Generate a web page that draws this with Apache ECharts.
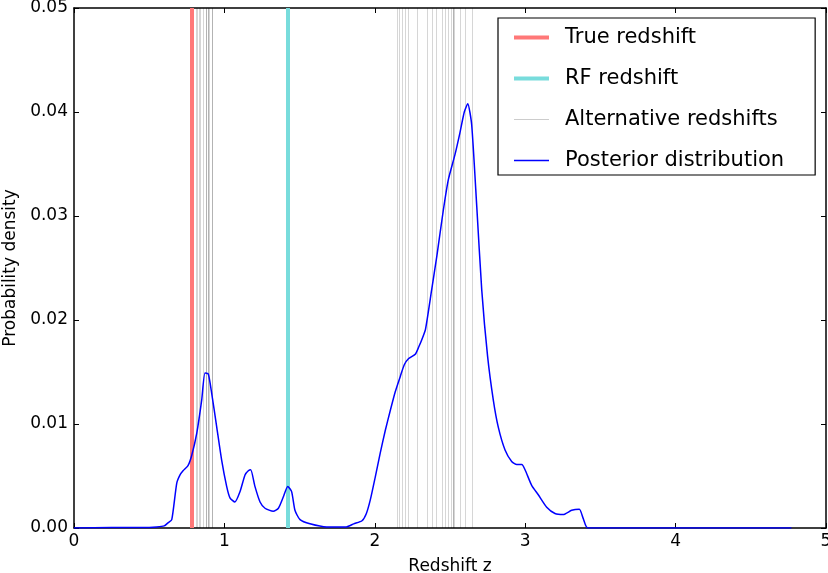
<!DOCTYPE html>
<html>
<head>
<meta charset="utf-8">
<script src="https://cdn.jsdelivr.net/npm/echarts@6/dist/echarts.min.js"></script>
<style>
  html, body { margin: 0; padding: 0; background: #fff; }
  #chart { width: 828px; height: 573px; }
</style>
</head>
<body>
<div id="chart"></div>
<script>
// redshift values
var trueZ = 0.781
var rfZ = 1.423
var altZ = [0.805, 0.818, 0.831, 0.844, 0.858, 0.878, 0.878, 0.891, 0.891, 0.904, 0.918, 0.924,
    2.146, 2.161, 2.181, 2.201, 2.221, 2.281, 2.354, 2.380, 2.407, 2.447, 2.467, 2.487,
    2.507, 2.520, 2.520, 2.533, 2.566, 2.600, 2.653]

// posterior curve
var postZ = [0, 0.25, 0.45, 0.55, 0.60, 0.625, 0.65, 0.683, 0.705, 0.725, 0.758, 0.783, 0.816, 0.849,
    0.871, 0.893, 0.915, 0.949, 0.982, 1.015, 1.037, 1.070, 1.104, 1.137, 1.159, 1.175, 1.203,
    1.237, 1.270, 1.325, 1.359, 1.392, 1.421, 1.447, 1.469, 1.503, 1.569, 1.68, 1.81, 1.86,
    1.915, 1.944, 1.97, 2.003, 2.036, 2.07, 2.103, 2.136, 2.17, 2.196, 2.225, 2.269, 2.292,
    2.315, 2.337, 2.378, 2.412, 2.456, 2.489, 2.533, 2.566, 2.595, 2.618, 2.644, 2.678, 2.711,
    2.75, 2.788, 2.821, 2.866, 2.910, 2.944, 2.977, 2.999, 3.043, 3.087, 3.143, 3.198, 3.253,
    3.309, 3.36, 3.386, 3.416, 4.77]
var postP = [0, 0.00005, 0.00005, 0.0001, 0.0002, 0.0005, 0.0008, 0.0043, 0.0051, 0.0055, 0.006,
    0.007, 0.0091, 0.0123, 0.0149, 0.0148, 0.013, 0.0097, 0.0065, 0.004, 0.0029, 0.0025, 0.0035,
    0.0051, 0.0055, 0.0056, 0.004, 0.0025, 0.0019, 0.0016, 0.0019, 0.003, 0.004, 0.0035, 0.0017,
    0.0008, 0.0004, 0.0001, 0.0001, 0.0004, 0.0007, 0.0014, 0.0027, 0.0049, 0.0072, 0.0094,
    0.0113, 0.0131, 0.0146, 0.0157, 0.0163, 0.0167, 0.0174, 0.0182, 0.0191, 0.0229, 0.0261,
    0.0306, 0.0335, 0.0359, 0.0380, 0.0400, 0.0408, 0.0388, 0.0309, 0.0229, 0.0165, 0.0123,
    0.0097, 0.0075, 0.0064, 0.0061, 0.0061, 0.0056, 0.0041, 0.0032, 0.002, 0.0014, 0.0013,
    0.0017, 0.0018, 0.0009, 0, 0]

var xTicks = [0, 1, 2, 3, 4, 5]
var yTicks = [0, 0.01, 0.02, 0.03, 0.04, 0.05]

var font = 'DejaVu Sans'
var chart = echarts.init(document.getElementById('chart'))

function vline(v) {
    return { xAxis: v }
}

function axisBase(extra) {
    var a = {
        type: 'value',
        axisLine: { show: true, onZero: false, lineStyle: { color: '#000', width: 1.5 } },
        axisTick: { show: true, inside: true, length: 5, lineStyle: { color: '#000', width: 1 } },
        splitLine: { show: false },
        axisLabel: { show: false }
    }
    for (var k in extra) a[k] = extra[k]
    return a
}

chart.setOption({
    animation: false,
    backgroundColor: '#fff',
    textStyle: { fontFamily: font },
    grid: { left: 74, right: 2, top: 8, bottom: 45, containLabel: false, outerBoundsMode: 'none' },
    legend: {
        orient: 'vertical',
        left: 498,
        top: 18,
        data: [
            { name: 'True redshift', lineStyle: { width: 4 } },
            { name: 'RF redshift', lineStyle: { width: 4 } },
            { name: 'Alternative redshifts', lineStyle: { width: 1 } },
            { name: 'Posterior distribution', lineStyle: { width: 1.5 } }
        ],
        backgroundColor: '#fff',
        borderColor: '#000',
        borderWidth: 1.2,
        borderRadius: 0,
        padding: [9, 31, 4, 14],
        itemGap: 20,
        itemWidth: 35,
        itemHeight: 14,
        selectedMode: false,
        itemStyle: { opacity: 0 },
        textStyle: { fontFamily: font, fontSize: 21, color: '#000', padding: [0, 0, 0, 11] }
    },
    xAxis: [
        axisBase({
            min: xTicks[0], max: xTicks[xTicks.length - 1], interval: 1,
            position: 'bottom',
            name: 'Redshift z', nameLocation: 'middle', nameGap: 30,
            nameTextStyle: { fontFamily: font, fontSize: 17, color: '#000' },
            axisLabel: { show: true, margin: 5, fontFamily: font, fontSize: 17, color: '#000' }
        }),
        axisBase({ min: 0, max: 5, interval: 1, position: 'top' })
    ],
    yAxis: [
        axisBase({
            min: yTicks[0], max: yTicks[yTicks.length - 1], interval: 0.01,
            position: 'left',
            name: 'Probability density', nameLocation: 'middle', nameGap: 52,
            nameTextStyle: { fontFamily: font, fontSize: 17, color: '#000' },
            axisLabel: {
                show: true, margin: 6, fontFamily: font, fontSize: 17, color: '#000',
                formatter: function (v) { return v.toFixed(2) }
            }
        }),
        axisBase({ min: 0, max: 0.05, interval: 0.01, position: 'right' })
    ],
    series: [
        {
            name: 'True redshift',
            type: 'line',
            data: [],
            symbol: 'none',
            color: '#ff7878',
            lineStyle: { width: 4 },
            markLine: {
                silent: true, symbol: 'none', label: { show: false },
                lineStyle: { color: '#ff7878', width: 4, type: 'solid' },
                data: [vline(trueZ)]
            }
        },
        {
            name: 'RF redshift',
            type: 'line',
            data: [],
            symbol: 'none',
            color: '#78dcdc',
            lineStyle: { width: 4 },
            markLine: {
                silent: true, symbol: 'none', label: { show: false },
                lineStyle: { color: '#78dcdc', width: 4, type: 'solid' },
                data: [vline(rfZ)]
            }
        },
        {
            name: 'Alternative redshifts',
            type: 'line',
            data: [],
            symbol: 'none',
            color: 'rgba(0,0,0,0.2)',
            lineStyle: { width: 1 },
            markLine: {
                silent: true, symbol: 'none', label: { show: false },
                lineStyle: { color: 'rgba(0,0,0,0.16)', width: 1, type: 'solid' },
                data: altZ.map(vline)
            }
        },
        {
            name: 'Posterior distribution',
            type: 'line',
            data: postZ.map(function (z, i) { return [z, postP[i]] }),
            symbol: 'none',
            smooth: 0.2,
            color: '#0000ff',
            lineStyle: { color: '#0000ff', width: 1.5 },
            z: 5
        }
    ]
})
</script>
</body>
</html>
